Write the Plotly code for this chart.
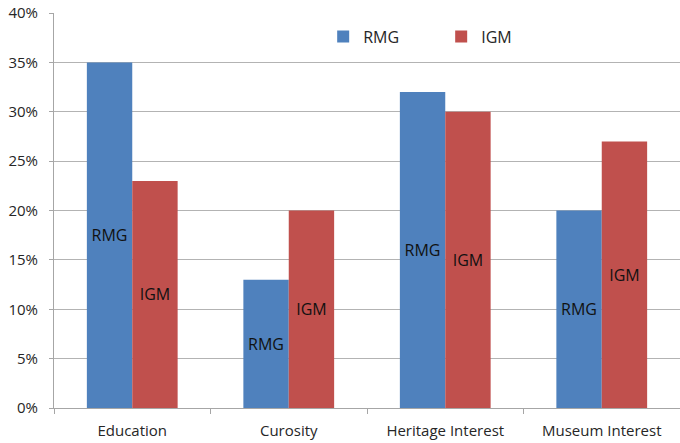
import plotly.graph_objects as go

categories = ["Education", "Curosity", "Heritage Interest", "Museum Interest"]
rmg_values = [35, 13, 32, 20]
igm_values = [23, 20, 30, 27]
y_ticks = [0, 5, 10, 15, 20, 25, 30, 35, 40]
y_tick_labels = [f"{v}%" for v in y_ticks]

FONT = "Open Sans, Liberation Sans, sans-serif"
TEXT = "#262626"

fig = go.Figure()
fig.add_trace(go.Bar(
    name="RMG", x=categories, y=rmg_values,
    marker=dict(color="#4f81bd", line=dict(width=0)),
    text=["RMG"] * len(categories), textposition="inside",
    insidetextanchor="middle", textangle=0,
    textfont=dict(color="#111111", size=16, family=FONT),
))
fig.add_trace(go.Bar(
    name="IGM", x=categories, y=igm_values,
    marker=dict(color="#c0504d", line=dict(width=0)),
    text=["IGM"] * len(categories), textposition="inside",
    insidetextanchor="middle", textangle=0,
    textfont=dict(color="#111111", size=16, family=FONT),
))

fig.update_layout(
    width=680, height=443,
    margin=dict(l=54, r=0, t=13, b=35),
    paper_bgcolor="white", plot_bgcolor="white",
    barmode="group", bargap=0.42, bargroupgap=0,
    font=dict(family=FONT, size=15, color=TEXT),
    uniformtext=dict(mode=False),
    legend=dict(
        orientation="h", x=0.43, y=0.94, xanchor="left", yanchor="middle",
        bgcolor="rgba(0,0,0,0)", font=dict(size=16, color=TEXT),
        entrywidth=73, entrywidthmode="pixels", itemclick=False,
    ),
    xaxis=dict(
        showgrid=False, showline=True, linecolor="#a6a6a6", linewidth=1,
        ticks="outside", ticklen=5, tickcolor="#a6a6a6", tickson="boundaries",
        tickfont=dict(size=15, color=TEXT), ticklabelstandoff=9,
    ),
    yaxis=dict(
        range=[0, 40], tickvals=y_ticks, ticktext=y_tick_labels,
        showgrid=True, gridcolor="#b3b3b3", gridwidth=1,
        showline=True, linecolor="#a6a6a6", linewidth=1,
        ticks="outside", ticklen=4, tickcolor="#a6a6a6",
        tickfont=dict(size=15, color=TEXT), zeroline=False,
        ticklabelstandoff=8,
    ),
)

fig.write_html("out.html")
